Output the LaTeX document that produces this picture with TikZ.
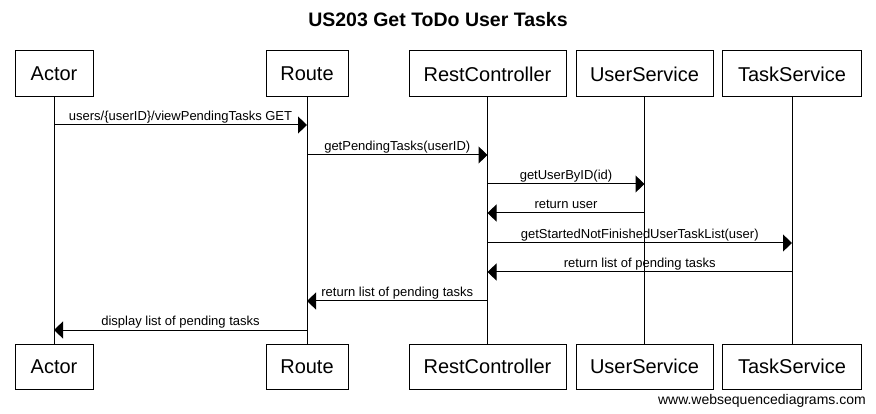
\documentclass[tikz,border=0pt]{standalone}
\usepackage{fontspec}
\setmainfont{Liberation Sans}
\usetikzlibrary{arrows.meta}
\begin{document}
\begin{tikzpicture}[x=1pt,y=-1pt,
  part/.style={draw=black, line width=1pt, minimum height=46pt, inner sep=0pt, font=\fontsize{20}{24}\selectfont},
  life/.style={line width=1pt},
  msg/.style={line width=1pt, -{Triangle[length=9pt,width=17pt]}},
  lbl/.style={midway, anchor=base, yshift=4pt, inner sep=0pt, font=\fontsize{13}{15}\selectfont}]
\useasboundingbox (0,0) rectangle (876,414);
\node[font=\bfseries\fontsize{19.5}{23}\selectfont] (title) at (438,20) {US203 Get ToDo User Tasks};
% top participants
\node[part, minimum width=78pt] (a1) at (54,74) {Actor};
\node[part, minimum width=82pt] (r1) at (307,74) {Route};
\node[part, minimum width=157pt] (c1) at (487.5,74) {RestController};
\node[part, minimum width=137pt] (u1) at (644.5,74) {UserService};
\node[part, minimum width=139pt] (t1) at (792,74) {TaskService};
% bottom participants
\node[part, minimum width=78pt, minimum height=45pt] (a2) at (54,366.5) {Actor};
\node[part, minimum width=82pt, minimum height=45pt] (r2) at (307,366.5) {Route};
\node[part, minimum width=157pt, minimum height=45pt] (c2) at (487.5,366.5) {RestController};
\node[part, minimum width=137pt, minimum height=45pt] (u2) at (644.5,366.5) {UserService};
\node[part, minimum width=139pt, minimum height=45pt] (t2) at (792,366.5) {TaskService};
% lifelines
\draw[life] (a1.south) -- (a2.north);
\draw[life] (r1.south) -- (r2.north);
\draw[life] (c1.south) -- (c2.north);
\draw[life] (u1.south) -- (u2.north);
\draw[life] (t1.south) -- (t2.north);
% messages
\draw[msg] (a1.south |- 0,125) -- (r1.south |- 0,125) node[lbl] {users/\{userID\}/viewPendingTasks GET};
\draw[msg] (r1.south |- 0,155) -- (c1.south |- 0,155) node[lbl] {getPendingTasks(userID)};
\draw[msg] (c1.south |- 0,184) -- (u1.south |- 0,184) node[lbl] {getUserByID(id)};
\draw[msg] (u1.south |- 0,213) -- (c1.south |- 0,213) node[lbl] {return user};
\draw[msg] (c1.south |- 0,243) -- (t1.south |- 0,243) node[lbl] {getStartedNotFinishedUserTaskList(user)};
\draw[msg] (t1.south |- 0,272) -- (c1.south |- 0,272) node[lbl] {return list of pending tasks};
\draw[msg] (c1.south |- 0,301) -- (r1.south |- 0,301) node[lbl] {return list of pending tasks};
\draw[msg] (r1.south |- 0,330) -- (a1.south |- 0,330) node[lbl] {display list of pending tasks};
% watermark
\node[anchor=base east, inner sep=0pt, font=\fontsize{14}{16}\selectfont] (wm) at (866,404) {www.websequencediagrams.com};
\end{tikzpicture}
\end{document}
